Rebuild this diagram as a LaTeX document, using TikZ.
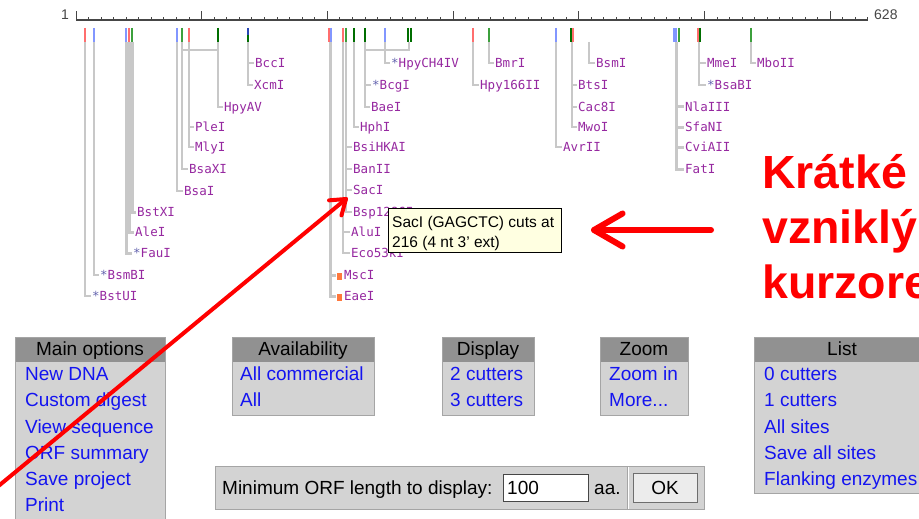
\documentclass[tikz,border=0pt]{standalone}
\usepackage{fontspec}
\setmainfont{Liberation Sans}
\newfontfamily\monof{DejaVu Sans Mono}
\usetikzlibrary{calc}
\definecolor{enz}{RGB}{150,40,160}
\definecolor{astc}{RGB}{100,100,175}
\definecolor{connc}{RGB}{200,200,200}
\definecolor{tred}{RGB}{255,110,110}
\definecolor{tblue}{RGB}{130,150,255}
\definecolor{tgreen}{RGB}{60,160,60}
\definecolor{tdgreen}{RGB}{0,110,0}
\definecolor{tdblue}{RGB}{40,70,180}
\definecolor{hdr}{RGB}{145,145,145}
\definecolor{bodyc}{RGB}{211,211,211}
\definecolor{bord}{RGB}{165,165,165}
\definecolor{lnk}{RGB}{20,20,240}
\definecolor{tipc}{RGB}{255,255,225}
\definecolor{orng}{RGB}{255,120,60}
\definecolor{rul}{RGB}{70,70,70}
\newcommand\enzast{\textcolor{astc}{*}}
\newcommand\enzsq{\textcolor{orng}{\rule{5pt}{7pt}}\kern2pt}
\begin{document}
\begin{tikzpicture}[x=1pt,y=-1pt,
  enzlab/.style={anchor=west, inner xsep=1pt, inner ysep=0pt, text height=9pt, text depth=0pt,
     font=\monof\fontsize{12.5}{13}\selectfont, text=enz},
  cline/.style={draw=connc, line width=1.6pt},
  wline/.style={draw=connc, line width=3pt},
  tk/.style={line width=2pt},
  item/.style={anchor=west, inner sep=0pt, text height=13.6pt, text depth=0pt,
     font=\fontsize{19}{19}\selectfont, text=lnk},
  head/.style={inner sep=0pt, text height=13.6pt, text depth=0pt,
     font=\fontsize{19}{19}\selectfont, text=black},
  boxbody/.style={fill=bodyc, draw=bord, line width=1pt},
  boxhead/.style={fill=hdr},
  redline/.style={draw=red, line cap=round, line join=round},
  bigred/.style={anchor=base west, inner sep=0pt, font=\bfseries\fontsize{46.5}{46.5}\selectfont, text=red}
]
\useasboundingbox (0,0) rectangle (919,519);
\clip (0,0) rectangle (919,519);
\fill[white] (0,0) rectangle (919,519);

% ruler
\draw[rul, line width=1.2pt] (76,20) -- (868,20);
\foreach \k in {0,...,63} {\pgfmathsetmacro\xx{76+\k*12.57}\draw[rul, line width=1pt] (\xx,20) -- (\xx,17);}
\foreach \k in {0,10,...,60} {\pgfmathsetmacro\xx{76+\k*12.57}\draw[rul, line width=1pt] (\xx,20) -- (\xx,11);}
\node[font=\fontsize{14}{14}\selectfont, text=rul, inner sep=0pt] (r1) at (65,15) {1};
\node[font=\fontsize{14}{14}\selectfont, text=rul, inner sep=0pt, anchor=west] (r628) at (874,15) {628};

% connector start coordinates
\foreach \x in {85,94,126,129,132,177,182,189,218,248,330,343,346,354,365,385,409,473,489,556,572,589,676,699,751}
  {\coordinate (c\x) at (\x,42);}

% labels
\newcommand\lab[5]{\node[enzlab] (#1) at (#3,#4) {#5};\draw[cline] (c#2) |- (#1.west);}
\newcommand\wlab[5]{\node[enzlab] (#1) at (#3,#4) {#5};\draw[wline] (c#2) |- (#1.west);}
\lab{BstUI}{85}{91}{296}{\enzast BstUI}
\lab{BsmBI}{94}{99}{275}{\enzast BsmBI}
\wlab{FauI}{126}{132}{253}{\enzast FauI}
\wlab{AleI}{129}{134}{232}{AleI}
\wlab{BstXI}{132}{136}{212}{BstXI}
\lab{BsaI}{177}{183}{191}{BsaI}
\lab{BsaXI}{182}{188}{169}{BsaXI}
\lab{PleI}{189}{194}{127}{PleI}
\lab{MlyI}{189}{194}{147}{MlyI}
\lab{HpyAV}{218}{223}{107}{HpyAV}
\lab{BccI}{248}{254}{63}{BccI}
\lab{XcmI}{248}{253}{85}{XcmI}
\wlab{MscI}{330}{336}{275}{\enzsq MscI}
\wlab{EaeI}{330}{336}{296}{\enzsq EaeI}
\lab{BsiHKAI}{346}{352}{147}{BsiHKAI}
\lab{BanII}{346}{352}{169}{BanII}
\lab{SacI}{346}{352}{190}{SacI}
\lab{Bsp}{346}{352}{212}{Bsp1286I}
\lab{AluI}{343}{350}{232}{AluI}
\lab{Eco}{343}{350}{253}{Eco53kI}
\lab{HphI}{354}{359}{127}{HphI}
\lab{BcgI}{365}{371}{85}{\enzast BcgI}
\lab{BaeI}{365}{370}{107}{BaeI}
\lab{HpyCH}{385}{390}{63}{\enzast HpyCH4IV}
\lab{Hpy166}{473}{479}{85}{Hpy166II}
\lab{BmrI}{489}{494}{63}{BmrI}
\lab{AvrII}{556}{562}{147}{AvrII}
\lab{BtsI}{572}{577}{85}{BtsI}
\lab{Cac8I}{572}{577}{107}{Cac8I}
\lab{MwoI}{572}{577}{127}{MwoI}
\lab{BsmI}{589}{595}{63}{BsmI}
\wlab{NlaIII}{676}{684}{107}{NlaIII}
\wlab{SfaNI}{676}{684}{127}{SfaNI}
\wlab{CviAII}{676}{684}{147}{CviAII}
\wlab{FatI}{676}{684}{169}{FatI}
\lab{MmeI}{699}{706}{63}{MmeI}
\lab{BsaBI}{699}{706}{85}{\enzast BsaBI}
\lab{MboII}{751}{756}{63}{MboII}
% joins
\coordinate (j182) at (182,50); \coordinate (j218) at (218,50);
\draw[cline] (j182) -- (j218);
\coordinate (j365) at (365,50); \coordinate (j409) at (409,50);
\draw[cline] (j365) -- (j409) -- (c409);

% site ticks
\draw[tk,tred] (85,28) -- (85,42);
\draw[tk,tblue] (94,28) -- (94,42);
\draw[tk,tblue] (126,28) -- (126,42);
\draw[tk,tred] (129,28) -- (129,42);
\draw[tk,tgreen] (132,28) -- (132,42);
\draw[tk,tblue] (177,28) -- (177,42);
\draw[tk,tgreen] (182,28) -- (182,42);
\draw[tk,tred] (189,28) -- (189,42);
\draw[tk,tdgreen] (218,28) -- (218,42);
\draw[tk,tdblue] (248,28) -- (248,35);
\draw[tk,tdgreen] (248,35) -- (248,42);
\draw[tk,tred] (329,28) -- (329,42);
\draw[tk,tblue] (331,28) -- (331,42);
\draw[tk,tred] (343,28) -- (343,42);
\draw[tk,tgreen] (346,28) -- (346,42);
\draw[tk,tdgreen] (354,28) -- (354,42);
\draw[tk,tdgreen] (365,28) -- (365,42);
\draw[tk,tblue] (385,28) -- (385,42);
\draw[tk,tdgreen] (407.5,28) -- (407.5,42);
\draw[tk,tdgreen] (410.5,28) -- (410.5,42);
\draw[tk,tred] (473,28) -- (473,42);
\draw[tk,tgreen] (489,28) -- (489,42);
\draw[tk,tblue] (556,28) -- (556,42);
\draw[tk,tdgreen] (571,28) -- (571,42);
\draw[tk,tred] (573,28) -- (573,42);
\draw[line width=4pt,tblue] (675,28) -- (675,42);
\draw[tk,tgreen] (679,28) -- (679,42);
\draw[tk,tred] (698,28) -- (698,42);
\draw[tk,tdgreen] (700,28) -- (700,42);
\draw[tk,tgreen] (751,28) -- (751,42);

% tooltip
\node[draw=black, line width=0.8pt, fill=tipc, anchor=north west, minimum width=173pt, minimum height=44pt,
  inner sep=0pt] (tipbox) at (388,208) {};
\node[anchor=west, inner sep=0pt, text height=11pt, text depth=0pt, font=\fontsize{15.5}{15.5}\selectfont]
  (tip1) at (392,222) {SacI (GAGCTC) cuts at};
\node[anchor=west, inner sep=0pt, text height=11pt, text depth=0pt, font=\fontsize{15.5}{15.5}\selectfont]
  (tip2) at (392,242) {216 (4 nt 3' ext)};

% menus
\fill[boxbody] (15,337) rectangle (165,540);
\fill[boxhead] (15,337) rectangle (165,362);
\draw[bord, line width=1pt] (15,337) rectangle (165,540);
\node[head] (mh) at (90,349) {Main options};
\node[item] (m1) at (25,374) {New DNA};
\node[item] (m2) at (25,400) {Custom digest};
\node[item] (m3) at (25,427) {View sequence};
\node[item] (m4) at (25,453) {ORF summary};
\node[item] (m5) at (25,479) {Save project};
\node[item] (m6) at (25,505) {Print};

\fill[boxbody] (232,337) rectangle (374,415);
\fill[boxhead] (232,337) rectangle (374,362);
\draw[bord, line width=1pt] (232,337) rectangle (374,415);
\node[head] (ah) at (303,349) {Availability};
\node[item] (a1) at (240,374) {All commercial};
\node[item] (a2) at (240,400) {All};

\fill[boxbody] (442,337) rectangle (534,415);
\fill[boxhead] (442,337) rectangle (534,362);
\draw[bord, line width=1pt] (442,337) rectangle (534,415);
\node[head] (dh) at (488,349) {Display};
\node[item] (d1) at (450,374) {2 cutters};
\node[item] (d2) at (450,400) {3 cutters};

\fill[boxbody] (600,337) rectangle (688,415);
\fill[boxhead] (600,337) rectangle (688,362);
\draw[bord, line width=1pt] (600,337) rectangle (688,415);
\node[head] (zh) at (644,349) {Zoom};
\node[item] (z1) at (609,374) {Zoom in};
\node[item] (z2) at (609,400) {More...};

\fill[boxbody] (754,337) rectangle (935,493);
\fill[boxhead] (754,337) rectangle (935,362);
\draw[bord, line width=1pt] (754,337) rectangle (935,493);
\node[head] (lh) at (842,349) {List};
\node[item] (l1) at (764,374) {0 cutters};
\node[item] (l2) at (764,400) {1 cutters};
\node[item] (l3) at (764,427) {All sites};
\node[item] (l4) at (764,453) {Save all sites};
\node[item] (l5) at (764,479) {Flanking enzymes};

% ORF bar
\draw[boxbody] (215,466) rectangle (704,509);
\draw[draw=bord, line width=1pt] (627,466) -- (627,509);
\draw[draw=white, line width=1pt] (628.5,466.5) -- (628.5,508.5);
\node[head, anchor=west] (orf) at (222,488) {Minimum ORF length to display:};
\draw[fill=white, draw=rul, line width=0.8pt] (503,474) rectangle (588,501);
\node[head, anchor=west] (val) at (507,488) {100};
\node[head, anchor=west] (aa) at (594,488) {aa.};
\draw[fill={rgb,255:red,236;green,236;blue,236}, draw={rgb,255:red,110;green,110;blue,110}, line width=0.8pt] (633,473) rectangle (697,502);
\node[head] (ok) at (665,488) {OK};

% red annotations
\coordinate (dstart) at (-10,493);
\coordinate (dtip) at (346,199);
\draw[redline, line width=4pt] (dstart) -- (dtip);
\draw[redline, line width=4pt] ($(dtip)!17pt!35:(dstart)$) -- (dtip) -- ($(dtip)!17pt!-35:(dstart)$);
\coordinate (hstart) at (711,230);
\coordinate (htip) at (594,230);
\draw[redline, line width=6pt] (hstart) -- (htip);
\draw[redline, line width=6pt] ($(htip)!33pt!30:(hstart)$) -- (htip) -- ($(htip)!33pt!-30:(hstart)$);
\node[bigred] (t1) at (762,188) {Krátké};
\node[bigred] (t2) at (762,243) {vzniklý};
\node[bigred] (t3) at (762,298) {kurzore};
\end{tikzpicture}
\end{document}
